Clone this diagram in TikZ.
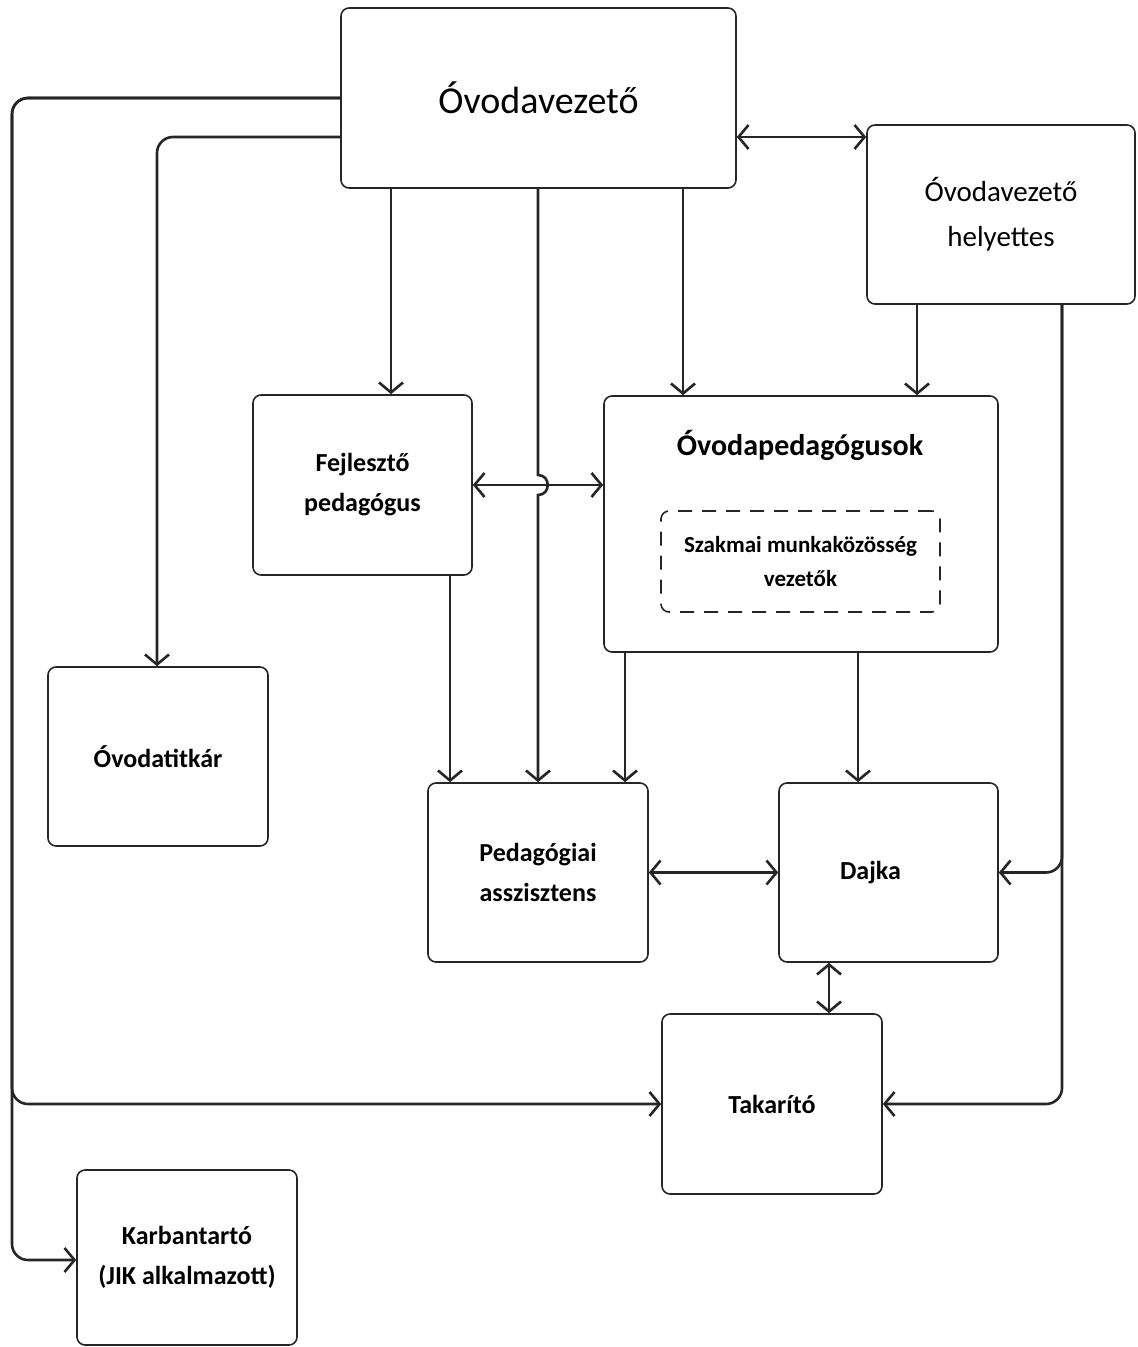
\documentclass[tikz,border=0pt]{standalone}
\usepackage{fontspec}
\setmainfont{Carlito}
\usetikzlibrary{arrows.meta}

\tikzset{
  egyseg/.style={draw=black!85, line width=0.8pt, rounded corners=4pt, fill=white, align=center, inner sep=0pt},
  vonal/.style={draw=black!85, line width=1.3pt, -{Straight Barb[length=5pt,width=12pt]}},
  ketiranyu/.style={vonal, {Straight Barb[length=5pt,width=12pt]}-{Straight Barb[length=5pt,width=12pt]}},
  kisbetu/.style={font=\fontsize{13}{20}\selectfont\bfseries}
}

\begin{document}
\begin{tikzpicture}[x=0.5pt,y=0.5pt,yscale=-1,xscale=1]
%set diagram size to the page
\fill[white] (0,0) rectangle (1137,1347);
\useasboundingbox (0,0) rectangle (1137,1347);

%Shape: Rectangle [vezeto]
\node (vezeto) [egyseg, minimum width=197.5pt, minimum height=90pt, font=\fontsize{19}{22}\selectfont] at (538.5,98) {Óvodavezető};
%Shape: Rectangle [helyettes]
\node (helyettes) [egyseg, minimum width=134pt, minimum height=89.5pt, font=\fontsize{14.5}{22.5}\selectfont] at (1001,214.5) {Óvodavezető\\helyettes};
%Shape: Rectangle [fejleszto]
\node (fejleszto) [egyseg, kisbetu, minimum width=109.5pt, minimum height=90pt] at (362.5,485) {Fejlesztő\\pedagógus};
%Shape: Rectangle [ovped]
\node (ovped) [egyseg, minimum width=197pt, minimum height=128pt] at (801,524) {};
% Text Node
\node (ovpedcim) [font=\fontsize{15}{18}\selectfont\bfseries] at (800,445) {Óvodapedagógusok};
%Shape: Rectangle [szakmai]
\node (szakmai) [egyseg, dashed, dash pattern={on 7pt off 5pt}, minimum width=139.5pt, minimum height=50.5pt, font=\fontsize{11.5}{17}\selectfont\bfseries] at (800.5,561.5) {Szakmai munkaközösség\\vezetők};
%Shape: Rectangle [titkar]
\node (titkar) [egyseg, kisbetu, minimum width=110pt, minimum height=89.5pt] at (158,756.5) {Óvodatitkár};
%Shape: Rectangle [asszisztens]
\node (asszisztens) [egyseg, kisbetu, minimum width=110pt, minimum height=89.5pt] at (538,872.5) {Pedagógiai\\asszisztens};
%Shape: Rectangle [dajka]
\node (dajka) [egyseg, kisbetu, minimum width=109.5pt, minimum height=89.5pt] at (888.5,872.5) {Dajka\hspace{18pt}};
%Shape: Rectangle [takarito]
\node (takarito) [egyseg, kisbetu, minimum width=110pt, minimum height=90pt] at (772,1104) {Takarító};
%Shape: Rectangle [karbantarto]
\node (karbantarto) [egyseg, kisbetu, minimum width=110pt, minimum height=87.5pt] at (187,1257.5) {Karbantartó\\(JIK alkalmazott)};

%Curve Lines (left side)
\draw [vonal, rounded corners=8pt] (vezeto.west) -| (12,1104) -- (takarito.west);
\draw [vonal, rounded corners=8pt] (vezeto.west) -| (12,1260) -- (karbantarto.west |- 0,1260);
\draw [vonal, rounded corners=8pt] (vezeto.west |- 0,137) -| (titkar.north -| 157,0);

%Straight Lines (from vezeto)
\draw [vonal] (vezeto.south -| 391,0) -- (fejleszto.north -| 391,0);
\draw [vonal] (vezeto.south -| 538,0) -- (538,475) .. controls (551,475) and (551,495) .. (538,495) -- (asszisztens.north);
\draw [vonal] (vezeto.south -| 683,0) -- (ovped.north -| 683,0);
\draw [ketiranyu] (vezeto.east |- 0,137) -- (helyettes.west |- 0,137);

%Straight Lines (from helyettes)
\draw [vonal] (helyettes.south -| 917,0) -- (ovped.north -| 917,0);
\draw [vonal, rounded corners=8pt] (helyettes.south -| 1062,0) |- (dajka.east);
\draw [vonal, rounded corners=8pt] (helyettes.south -| 1062,0) |- (takarito.east);

%Straight Lines (middle)
\draw [ketiranyu] (fejleszto.east) -- (fejleszto.east -| ovped.west);
\draw [vonal] (fejleszto.south -| 450,0) -- (asszisztens.north -| 450,0);
\draw [vonal] (ovped.south -| 625,0) -- (asszisztens.north -| 625,0);
\draw [vonal] (ovped.south -| 858,0) -- (dajka.north -| 858,0);
\draw [ketiranyu] (asszisztens.east) -- (dajka.west);
\draw [ketiranyu] (dajka.south -| 829,0) -- (takarito.north -| 829,0);

\end{tikzpicture}
\end{document}
